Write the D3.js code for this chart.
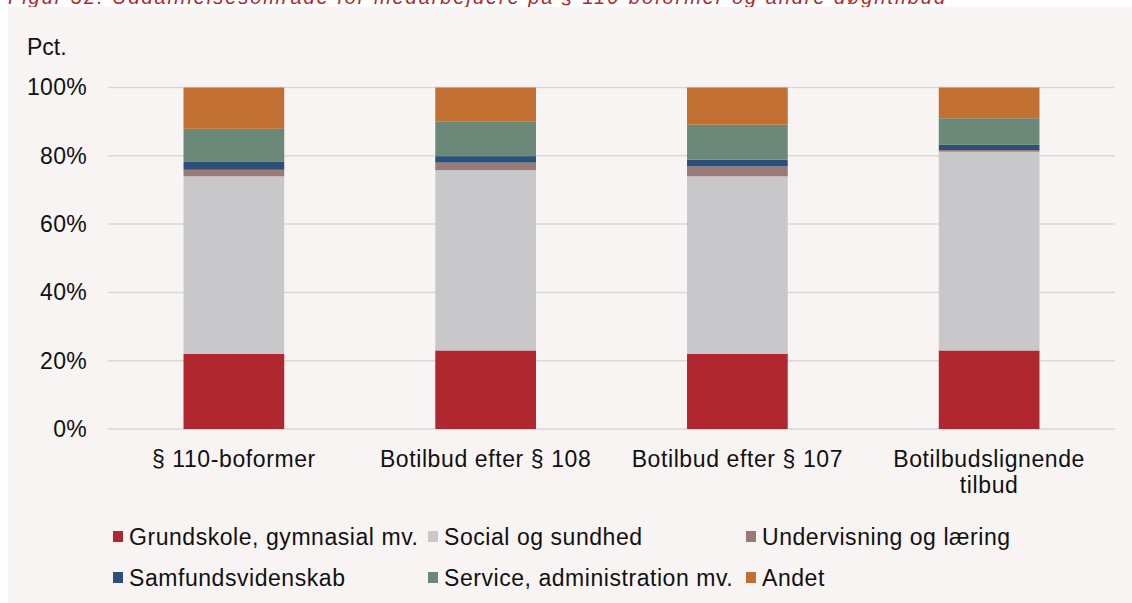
<!DOCTYPE html>
<html>
<head>
<meta charset="utf-8">
<script src="https://cdn.jsdelivr.net/npm/d3@7"></script>
<style>
  body { margin: 0; background: #fff; }
  text { font-family: 'Liberation Sans', Arial, sans-serif; fill: #111; }
</style>
</head>
<body>
<div id="visualization"></div>
<script>
const categories = ['§ 110-boformer', 'Botilbud efter § 108', 'Botilbud efter § 107', 'Botilbudslignende|tilbud']
const seriesNames = ['Grundskole, gymnasial mv.', 'Social og sundhed', 'Undervisning og læring',
  'Samfundsvidenskab', 'Service, administration mv.', 'Andet']
const grundskole = [22, 23, 22, 23]
const social = [52, 52.8, 52, 58.2]
const undervisning = [1.9, 2.2, 2.9, 0.5]
const samfund = [2.3, 1.9, 2, 1.5]
const service = [9.7, 10.2, 10.2, 7.8]
const andet = [12.1, 9.9, 10.9, 9]
const yTicks = [0, 20, 40, 60, 80, 100]
const colors = ['#b0272f', '#c8c8ca', '#9a7a77', '#2c5078', '#6b8878', '#c17031']

const width = 1132
const height = 603
const allSeries = [grundskole, social, undervisning, samfund, service, andet]

const rows = categories.map((c, i) => {
  const row = { cat: c }
  seriesNames.forEach((s, j) => { row[s] = allSeries[j][i] })
  return row
})

const svg = d3.select('#visualization').append('svg')
  .attr('width', width).attr('height', height)

// figure title, cut off by the top edge like in the source
svg.append('text')
  .attr('x', 8).attr('y', 4)
  .attr('font-family', "'Liberation Sans Narrow', 'Liberation Sans', sans-serif")
  .style('font-style', 'italic')
  .style('font-size', '20px')
  .style('fill', '#b0272f')
  .attr('textLength', 937)
  .text('Figur 32. Uddannelsesområde for medarbejdere på § 110-boformer og andre døgntilbud')

svg.append('rect')
  .attr('x', 8).attr('y', 7).attr('width', width - 8).attr('height', height - 7)
  .attr('fill', '#f7f4f3')

const x = d3.scaleBand().domain(categories).range([108, 1115]).paddingInner(0.6).paddingOuter(0.3)
const y = d3.scaleLinear().domain([0, 100]).range([429, 87.5])

// gridlines
svg.append('g').selectAll('line').data(yTicks).join('line')
  .attr('x1', 108).attr('x2', 1115)
  .attr('y1', d => y(d)).attr('y2', d => y(d))
  .attr('stroke', '#d9d9d9').attr('stroke-width', 1.5)

const yAxis = svg.append('g')
  .attr('transform', 'translate(87,0)')
  .call(d3.axisLeft(y).tickValues(yTicks).tickFormat(d => d + '%').tickSize(0).tickPadding(0))
yAxis.select('.domain').remove()
yAxis.selectAll('text')
  .style('font-size', '23px').style('letter-spacing', '0.3px')
  .style('font-family', "'Liberation Sans', Arial, sans-serif")
  .attr('fill', '#111')

svg.append('text').attr('x', 27).attr('y', 55).style('font-size', '23px').text('Pct.')

const stacked = d3.stack().keys(seriesNames)(rows)

svg.append('g').selectAll('g').data(stacked).join('g')
  .attr('fill', (d, i) => colors[i])
  .selectAll('rect').data(d => d).join('rect')
  .attr('x', d => x(d.data.cat))
  .attr('width', x.bandwidth())
  .attr('y', d => y(d[1]))
  .attr('height', d => y(d[0]) - y(d[1]))

// category labels
const catLabels = svg.append('g').selectAll('text').data(categories).join('text')
  .attr('x', d => x(d) + x.bandwidth() / 2)
  .attr('y', 467)
  .attr('text-anchor', 'middle')
  .style('font-size', '23px')
  .style('letter-spacing', '0.6px')
catLabels.selectAll('tspan').data(d => d.split('|')).join('tspan')
  .attr('x', function () { return d3.select(this.parentNode).attr('x') })
  .attr('dy', (d, i) => i === 0 ? 0 : 26)
  .text(d => d)

// legend
const legendX = [113, 428, 746]
const legendY = [537, 578]
const legend = svg.append('g').selectAll('g').data(seriesNames).join('g')
  .attr('transform', (d, i) => `translate(${legendX[i % 3]},${legendY[Math.floor(i / 3)]})`)
legend.append('rect')
  .attr('x', 0).attr('y', -6).attr('width', 10).attr('height', 11)
  .attr('fill', (d, i) => colors[i])
legend.append('text')
  .attr('x', 16).attr('y', 8)
  .style('font-size', '23px')
  .style('letter-spacing', '0.55px')
  .text(d => d)
</script>
</body>
</html>
